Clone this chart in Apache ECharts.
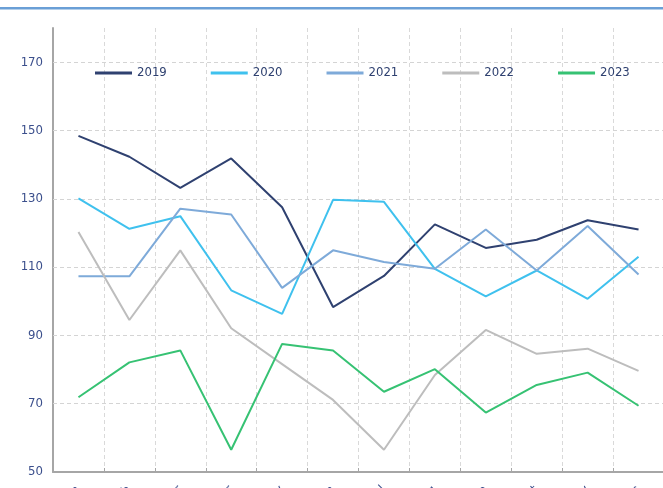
<!DOCTYPE html>
<html>
<head>
<meta charset="utf-8">
<script src="https://cdn.jsdelivr.net/npm/echarts@6/dist/echarts.min.js"></script>
<style>
html,body{margin:0;padding:0;background:#fff;}
#chart{width:663px;height:488px;}
</style>
</head>
<body>
<div id="chart"></div>
<script>
const categories = ['Jan','Feb','Mar','Apr','May','Jun','Jul','Aug','Sep','Oct','Nov','Dec'];
const seriesNames = ['2019','2020','2021','2022','2023'];
const s2019 = [148.4, 142.3, 133.2, 141.8, 127.5, 98.3, 107.4, 122.5, 115.6, 118.0, 123.7, 121.0];
const s2020 = [130.1, 121.2, 124.9, 103.2, 96.3, 129.7, 129.1, 109.5, 101.4, 109.0, 100.7, 113.0];
const s2021 = [107.3, 107.3, 127.1, 125.4, 103.9, 114.9, 111.5, 109.5, 121.0, 109.0, 122.0, 107.8];
const s2022 = [120.3, 94.5, 114.9, 92.1, 81.6, 71.1, 56.5, 78.4, 91.6, 84.6, 86.1, 79.6];
const s2023 = [71.9, 82.1, 85.6, 56.5, 87.5, 85.6, 73.5, 80.1, 67.4, 75.5, 79.1, 69.4];
const yTickLabels = [50, 70, 90, 110, 130, 150, 170];
const gridValues = [70, 90, 110, 130, 150, 170];

const colors = ['#2f4170', '#3fc1ee', '#7eaad9', '#bdbdbd', '#36c273'];
const allData = [s2019, s2020, s2021, s2022, s2023];
const FONT = '"DejaVu Sans Condensed", "Liberation Sans", "DejaVu Sans", sans-serif';

const chart = echarts.init(document.getElementById('chart'), null, {renderer: 'canvas'});

const series = seriesNames.map((name, i) => {
  const s = {
    name: name,
    type: 'line',
    data: allData[i],
    symbol: 'none',
    lineStyle: {width: 2, color: colors[i]},
    itemStyle: {color: colors[i]},
    z: 3 + i,
    animation: false
  };
  if (i === 0) {
    s.markLine = {
      silent: true,
      symbol: ['none', 'none'],
      label: {show: false},
      lineStyle: {type: [4, 3], color: '#d4d4d4', width: 1},
      data: gridValues.map(v => ({yAxis: v})),
      z: 1,
      animation: false
    };
  }
  return s;
});

chart.setOption({
  animation: false,
  backgroundColor: '#ffffff',
  graphic: [{
    type: 'rect',
    left: 0,
    top: 7,
    shape: {width: 663, height: 2.5},
    style: {fill: '#6a9fd6'},
    silent: true
  }],
  grid: {left: 53, top: 28, width: 611, height: 444, containLabel: false, outerBoundsMode: 'none'},
  legend: {
    data: seriesNames,
    left: 95,
    top: 65,
    padding: 0,
    icon: 'rect',
    itemWidth: 37,
    itemHeight: 3,
    itemGap: 44,
    textStyle: {fontFamily: FONT, fontSize: 13, color: '#2f4170', lineHeight: 16}
  },
  xAxis: {
    type: 'category',
    data: categories,
    boundaryGap: true,
    axisLine: {show: true, lineStyle: {color: '#a6a6a6', width: 2}},
    axisTick: {show: true, inside: true, length: 4, lineStyle: {color: '#a6a6a6'}},
    axisLabel: {rotate: 45, margin: 16, fontFamily: FONT, fontSize: 13, color: '#3b4f8c'},
    splitLine: {show: true, lineStyle: {type: [4, 3], color: '#d9d9d9', width: 1}}
  },
  yAxis: {
    type: 'value',
    min: 50,
    max: 180,
    interval: 10,
    axisLine: {show: true, lineStyle: {color: '#a6a6a6', width: 2}},
    axisTick: {show: false},
    splitLine: {show: false},
    axisLabel: {
      margin: 10,
      fontFamily: FONT,
      fontSize: 13,
      color: '#3b4f8c',
      formatter: v => (yTickLabels.indexOf(v) >= 0 ? String(v) : '')
    }
  },
  series: series
});
</script>
</body>
</html>
